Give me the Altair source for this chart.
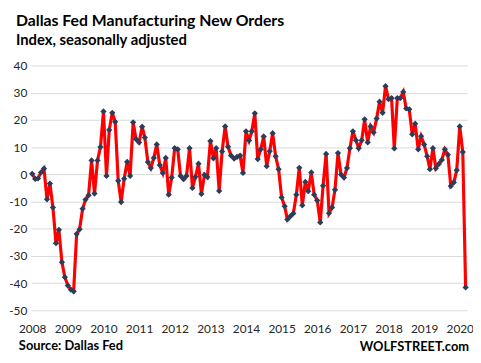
import altair as alt
import pandas as pd

# Monthly index values, Jan 2008 .. Mar 2020
values = [
    0.2, -1.7, -1.5, 0.7, 2.1, -9.2, -3.4, -12.2, -25.3, -20.4, -32.3, -37.8,
    -40.9, -42.4, -43.0, -21.9, -20.2, -12.7, -9.3, -7.7, 5.1, -7.1, 5.1, 10.0,
    23.1, -0.6, 16.3, 22.6, 19.3, -2.4, -10.2, -1.6, 4.6, -0.6, 19.1, 12.9,
    11.7, 17.5, 13.5, 4.5, 2.3, 6.0, 11.0, 3.4, 0.5, 6.0, -7.5, -1.2,
    9.6, 9.2, -0.6, -1.8, -0.6, 9.6, -5.0, -0.9, 3.9, -7.2, -0.2, -1.0,
    12.2, 5.9, 9.6, -6.1, 8.4, 17.6, 10.1, 6.9, 5.8, 6.4, 6.9, 0.5,
    15.8, 12.4, 15.8, 22.4, 5.6, 9.2, 13.9, 3.0, 8.5, 15.1, 6.6, 1.9,
    -8.5, -11.7, -16.6, -15.4, -14.4, -7.5, 2.4, -11.4, -2.8, -6.2, 0.7, -7.5,
    -9.6, -17.7, -4.2, 7.5, -14.3, -12.2, -5.7, 7.8, -0.1, -1.2, 2.3, 9.6,
    15.8, 12.5, 9.6, 12.5, 20.2, 11.7, 17.6, 15.4, 20.5, 26.7, 22.6, 32.4,
    27.6, 28.0, 9.5, 28.0, 28.0, 30.3, 24.2, 23.9, 14.7, 18.6, 9.2, 14.0,
    11.0, 6.6, 1.9, 9.6, 2.2, 3.8, 5.3, 9.2, 7.2, -4.3, -3.0, 1.5,
    17.6, 8.2, -41.6,
]
dates = pd.date_range("2008-01-01", periods=len(values), freq="MS").strftime("%Y-%m-%d").tolist()
years = list(range(2008, 2021))
y_ticks = list(range(-50, 41, 10))

df = pd.DataFrame({"date": dates, "value": values})

FONT = "Lato"

x_enc = alt.X(
    "date:T",
    scale=alt.Scale(type="utc", domain=["2007-12-17", "2020-03-16"]),
    axis=alt.Axis(
        values=[alt.DateTime(year=y, month=1, date=1, utc=True) for y in years],
        format="%Y", formatType="utc", title=None, domain=False, ticks=False,
        tickSize=0, grid=False, labelPadding=13, labelFont=FONT, labelFontSize=12,
        labelColor="#262626", labelAngle=0, labelOverlap=False, labelFlush=False,
    ),
)
y_enc = alt.Y(
    "value:Q",
    scale=alt.Scale(domain=[-50, 40], nice=False, zero=False),
    axis=alt.Axis(
        values=y_ticks, title=None, domain=False, ticks=False, tickSize=0,
        grid=True, gridColor="#d9d9d9", gridWidth=1, labelPadding=4,
        labelFont=FONT, labelFontSize=12, labelColor="#262626",
        labelExpr="'' + datum.value",
    ),
)

base = alt.Chart(df).encode(x=x_enc, y=y_enc)
line = base.mark_line(color="#ff0000", strokeWidth=3.2)
pts = base.mark_point(shape="diamond", filled=True, color="#2b3d5a", size=40, opacity=1)

src = alt.Chart(pd.DataFrame({"t": ["Source: Dallas Fed"]})).mark_text(
    align="left", baseline="middle", font=FONT, fontSize=13, fontWeight="bold", color="#000000"
).encode(x=alt.value(-12), y=alt.value(284), text="t:N")
wolf = alt.Chart(pd.DataFrame({"t": ["WOLFSTREET.com"]})).mark_text(
    align="right", baseline="middle", font=FONT, fontSize=13, fontWeight="bold", color="#000000"
).encode(x=alt.value(444), y=alt.value(285), text="t:N")

chart = alt.layer(line, pts, src, wolf).properties(
    width=442,
    height=248,
    padding={"left": 23, "top": 56, "right": 6, "bottom": 42},
    autosize=alt.AutoSizeParams(type="none"),
    title=alt.TitleParams(
        text="Dallas Fed Manufacturing  New Orders",
        subtitle="Index, seasonally adjusted",
        anchor="start", frame="group", dx=-15, offset=12,
        font=FONT, fontSize=16, fontWeight="bold", color="#000000",
        subtitleFont=FONT, subtitleFontSize=15, subtitleFontWeight="bold",
        subtitleColor="#000000", subtitlePadding=4,
    ),
).configure_view(stroke=None)

chart.save("out.html", embed_options={"renderer": "svg", "actions": False})
